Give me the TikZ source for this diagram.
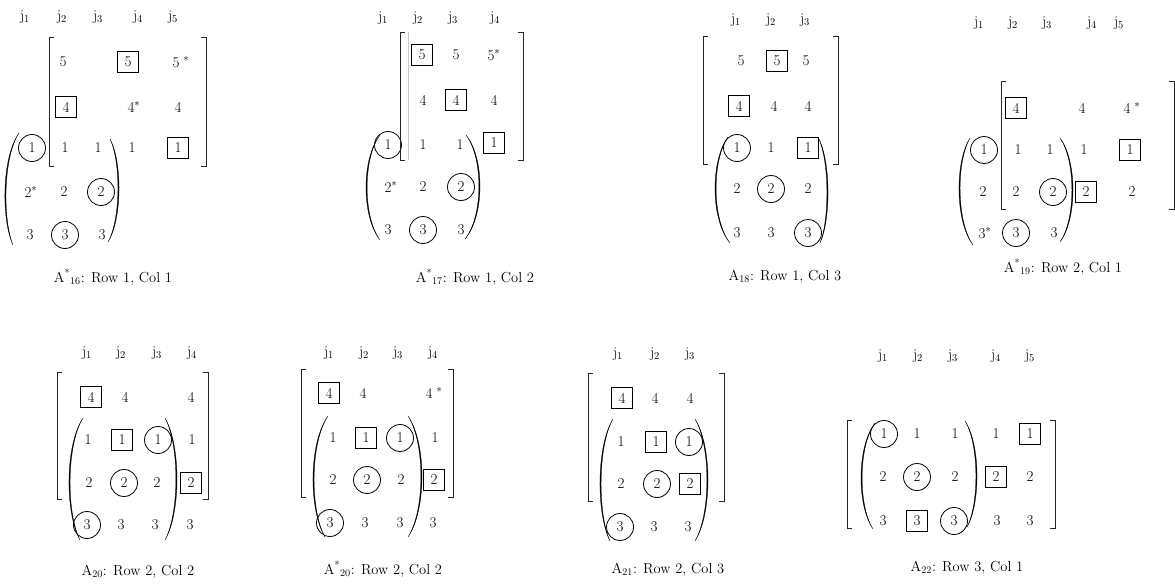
\documentclass[tikz,border=0pt]{standalone}
% Matrix entry helpers: plain, boxed and ringed entries, column headings
\newcommand\mE[4]{\node[ent] (#1) at (#2,#3) {#4};}
\newcommand\mB[4]{\node[ent,boxed] (#1) at (#2,#3) {#4};}
\newcommand\mC[4]{\node[ent,ringed] (#1) at (#2,#3) {#4};}
\newcommand\mH[4]{\node[colhead] (#1) at (#2,#3) {j\textsubscript{#4}};}
% square brackets: x left, x right, y top, y bottom
\newcommand\sqbr[4]{%
  \draw[brk] ({#1+5},#3) -- (#1,#3) -- (#1,#4) -- ({#1+5},#4);
  \draw[brk] ({#2-5},#3) -- (#2,#3) -- (#2,#4) -- ({#2-5},#4);}
% tapered parenthesis: top x,y, extreme x, bottom x,y, signed thickness
\newcommand\paren[6]{%
  \fill[parfill] (#1,#2)
    .. controls ({(8*#3-#1-#4)/6},{#2+0.22*(#5-#2)}) and ({(8*#3-#1-#4)/6},{#5-0.22*(#5-#2)}) .. (#4,#5)
    .. controls ({(8*(#3+(#6))-#1-#4)/6},{#5-0.22*(#5-#2)}) and ({(8*(#3+(#6))-#1-#4)/6},{#2+0.22*(#5-#2)}) .. (#1,#2) -- cycle;}
\newcommand\sstar{\rlap{$^{*}$}}
\newcommand\wstar{\rlap{\hspace{4pt}$^{*}$}}
\begin{document}
\begin{tikzpicture}[x=1pt,y=-1pt,
  ent/.style={inner sep=0pt, font=\fontsize{15}{18}\selectfont},
  boxed/.style={draw, line width=0.8pt, minimum width=21pt, minimum height=21pt},
  ringed/.style={draw, circle, line width=0.8pt, minimum size=27pt},
  colhead/.style={inner sep=0pt, font=\fontsize{15}{18}\selectfont},
  captext/.style={inner sep=0pt, font=\fontsize{14.5}{17}\selectfont},
  brk/.style={line width=0.9pt, black!85},
  parfill/.style={fill=black, draw=black, line width=0.3pt}]
\useasboundingbox (0,0) rectangle (1175,584);

% ---- A*16: Row 1, Col 1
\mH{aj1}{25}{17}{1} \mH{aj2}{62}{17}{2} \mH{aj3}{98}{17}{3} \mH{aj4}{138}{17}{4} \mH{aj5}{173}{17}{5}
\mE{a52}{63}{62}{5} \mB{a54}{128}{62}{5} \mE{a55}{176}{62}{5\wstar}
\mB{a42}{66}{107}{4} \mE{a44}{131}{107}{4\sstar} \mE{a45}{178}{107}{4}
\mC{a11}{32}{148}{1} \mE{a12}{65}{148}{1} \mE{a13}{98}{148}{1} \mE{a14}{132}{148}{1} \mB{a15}{178}{148}{1}
\mE{a21}{28}{192}{2\sstar} \mE{a22}{64}{192}{2} \mC{a23}{101}{192}{2}
\mE{a31}{30}{235}{3} \mC{a32}{65}{235}{3} \mE{a33}{102}{235}{3}
\sqbr{49}{206}{37}{166}
\paren{19}{133}{5}{13}{245}{1.1}
\paren{110}{139}{119}{108}{242}{-1.1}
\node[captext] (acap) at (113,277) {A\textsuperscript{*}\textsubscript{16}: Row 1, Col 1};

% ---- A*17: Row 1, Col 2
\mH{bj1}{383}{18}{1} \mH{bj2}{418}{18}{2} \mH{bj3}{453}{18}{3} \mH{bj4}{495}{18}{4}
\mB{b52}{422}{55}{5} \mE{b53}{456}{55}{5} \mE{b54}{491}{55}{5\sstar}
\mE{b42}{423}{100}{4} \mB{b43}{456}{100}{4} \mE{b44}{494}{100}{4}
\mC{b11}{388}{145}{1} \mE{b12}{423}{145}{1} \mE{b13}{460}{145}{1} \mB{b14}{494}{143}{1}
\mE{b21}{388}{187}{2\sstar} \mE{b22}{423}{187}{2} \mC{b23}{461}{187}{2}
\mE{b31}{388}{230}{3} \mC{b32}{423}{230}{3} \mE{b33}{461}{230}{3}
\sqbr{400}{523}{32}{160}
\draw[gray!45, line width=0.5pt] (408,32) -- (408,160);
\paren{380}{135}{366}{380}{240}{1.1}
\paren{466}{135}{480}{465}{239}{-1.1}
\node[captext] (bcap) at (475,277) {A\textsuperscript{*}\textsubscript{17}: Row 1, Col 2};

% ---- A18: Row 1, Col 3
\mH{cj1}{736}{20}{1} \mH{cj2}{771}{20}{2} \mH{cj3}{805}{20}{3}
\mE{c51}{741}{61}{5} \mB{c52}{777}{61}{5} \mE{c53}{806}{61}{5}
\mB{c41}{739}{106}{4} \mE{c42}{774}{106}{4} \mE{c43}{808}{106}{4}
\mC{c11}{737}{148}{1} \mE{c12}{771}{148}{1} \mB{c13}{808}{148}{1}
\mE{c21}{737}{189}{2} \mC{c22}{771}{189}{2} \mE{c23}{808}{189}{2}
\mE{c31}{737}{233}{3} \mE{c32}{771}{233}{3} \mC{c33}{808}{233}{3}
\sqbr{703}{838}{36}{164}
\paren{728}{137}{715}{730}{243}{1.1}
\paren{818}{137}{828}{820}{243}{-1.1}
\node[captext] (ccap) at (785,277) {A\textsubscript{18}: Row 1, Col 3};

% ---- A*19: Row 2, Col 1
\mH{dj1}{979}{23}{1} \mH{dj2}{1013}{23}{2} \mH{dj3}{1047}{23}{3} \mH{dj4}{1092}{23}{4} \mH{dj5}{1119}{23}{5}
\mB{d42}{1016}{108}{4} \mE{d44}{1082}{108}{4} \mE{d45}{1127}{108}{4\wstar}
\mC{d11}{984}{150}{1} \mE{d12}{1018}{150}{1} \mE{d13}{1050}{150}{1} \mE{d14}{1084}{150}{1} \mB{d15}{1130}{150}{1}
\mE{d21}{983}{192}{2} \mE{d22}{1016}{192}{2} \mC{d23}{1053}{192}{2} \mB{d24}{1086}{192}{2} \mE{d25}{1132}{192}{2}
\mE{d31}{982}{233}{3\sstar} \mC{d32}{1016}{233}{3} \mE{d33}{1054}{233}{3}
\sqbr{1001}{1174}{81}{209}
\paren{970}{138}{959}{973}{245}{1.1}
\paren{1060}{138}{1073}{1060}{242}{-1.1}
\node[captext] (dcap) at (1063,267) {A\textsuperscript{*}\textsubscript{19}: Row 2, Col 1};

% ---- A20: Row 2, Col 2
\mH{ej1}{87}{353}{1} \mH{ej2}{121}{353}{2} \mH{ej3}{157}{353}{3} \mH{ej4}{192}{353}{4}
\mB{e41}{91}{397}{4} \mE{e42}{125}{397}{4} \mE{e44}{191}{397}{4}
\mE{e11}{88}{440}{1} \mB{e12}{122}{440}{1} \mC{e13}{158}{440}{1} \mE{e14}{192}{440}{1}
\mE{e21}{89}{483}{2} \mC{e22}{124}{483}{2} \mE{e23}{157}{483}{2} \mB{e24}{191}{483}{2}
\mC{e31}{87}{525}{3} \mE{e32}{121}{525}{3} \mE{e33}{155}{525}{3} \mE{e34}{190}{525}{3}
\sqbr{57}{208}{372}{499}
\paren{83}{418}{69}{80}{540}{1.1}
\paren{165}{418}{177}{165}{540}{-1.1}
\node[captext] (ecap) at (138,572) {A\textsubscript{20}: Row 2, Col 2};

% ---- A*20: Row 2, Col 2
\mH{fj1}{329}{353}{1} \mH{fj2}{364}{353}{2} \mH{fj3}{398}{353}{3} \mH{fj4}{433}{353}{4}
\mB{f41}{329}{393}{4} \mE{f42}{363}{393}{4} \mE{f44}{429}{393}{4\wstar}
\mE{f11}{333}{438}{1} \mB{f12}{366}{438}{1} \mC{f13}{400}{438}{1} \mE{f14}{435}{438}{1}
\mE{f21}{333}{480}{2} \mC{f22}{367}{480}{2} \mE{f23}{401}{480}{2} \mB{f24}{434}{480}{2}
\mC{f31}{330}{523}{3} \mE{f32}{365}{523}{3} \mE{f33}{400}{523}{3} \mE{f34}{433}{523}{3}
\sqbr{301}{453}{369}{497}
\paren{328}{416}{313}{325}{537}{1.1}
\paren{408}{416}{422}{408}{537}{-1.1}
\node[captext] (fcap) at (383,569) {A\textsuperscript{*}\textsubscript{20}: Row 2, Col 2};

% ---- A21: Row 2, Col 3
\mH{gj1}{618}{354}{1} \mH{gj2}{655}{354}{2} \mH{gj3}{690}{354}{3}
\mB{g41}{622}{398}{4} \mE{g42}{655}{398}{4} \mE{g43}{690}{398}{4}
\mE{g11}{621}{442}{1} \mB{g12}{656}{442}{1} \mC{g13}{689}{442}{1}
\mE{g21}{621}{484}{2} \mC{g22}{657}{484}{2} \mB{g23}{690}{484}{2}
\mC{g31}{620}{527}{3} \mE{g32}{654}{527}{3} \mE{g33}{688}{527}{3}
\sqbr{588}{724}{373}{501}
\paren{613}{419}{600}{610}{541}{1.1}
\paren{695}{419}{708}{695}{541}{-1.1}
\node[captext] (gcap) at (668,570) {A\textsubscript{21}: Row 2, Col 3};

% ---- A22: Row 3, Col 1
\mH{hj1}{883}{356}{1} \mH{hj2}{918}{356}{2} \mH{hj3}{953}{356}{3} \mH{hj4}{996}{356}{4} \mH{hj5}{1030}{356}{5}
\mC{h11}{884}{434}{1} \mE{h12}{917}{434}{1} \mE{h13}{955}{434}{1} \mE{h14}{996}{434}{1} \mB{h15}{1030}{434}{1}
\mE{h21}{883}{477}{2} \mC{h22}{917}{477}{2} \mE{h23}{955}{477}{2} \mB{h24}{996}{477}{2} \mE{h25}{1030}{477}{2}
\mE{h31}{883}{521}{3} \mB{h32}{917}{521}{3} \mC{h33}{954}{521}{3} \mE{h34}{997}{521}{3} \mE{h35}{1030}{521}{3}
\sqbr{847}{1055}{420}{528}
\paren{875}{423}{861}{873}{529}{1.1}
\paren{965}{421}{977}{967}{527}{-1.1}
\node[captext] (hcap) at (967,568) {A\textsubscript{22}: Row 3, Col 1};
\end{tikzpicture}
\end{document}
